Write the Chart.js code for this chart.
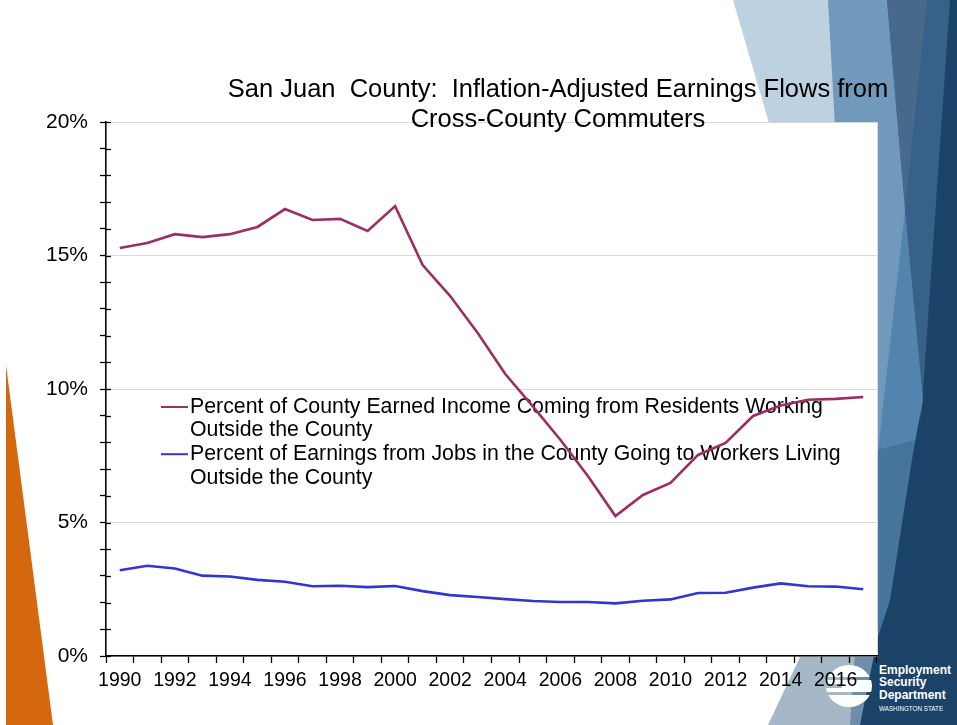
<!DOCTYPE html>
<html>
<head>
<meta charset="utf-8">
<script src="https://cdn.jsdelivr.net/npm/chart.js@4.4.0/dist/chart.umd.min.js"></script>
<style>
  html, body { margin: 0; padding: 0; background: #fff; }
  #wrap { position: relative; width: 957px; height: 725px; overflow: hidden; }
  #deco { position: absolute; left: 0; top: 0; }
  #chartBox { position: absolute; left: 0; top: 0; width: 957px; height: 725px; }
</style>
</head>
<body>
<div id="wrap">
  <svg id="deco" width="957" height="725">
    <polygon points="6,365 53,725 6,725" fill="#d5670f"/>
    <polygon points="880,0 957,0 957,725 858,725" fill="#1b4368"/>
    <polygon points="888,0 950,0 921,420" fill="#386189"/>
    <polygon points="887,0 927,0 905,210" fill="#47698b"/>
    <polygon points="905,210 923,400 900,520 877,600 877,300" fill="#5384ae"/>
    <polygon points="877,450 915,440 890,600 877,640" fill="#46749b"/>
    <polygon points="826,0 887,0 905,210 877,460 800,460" fill="#7199bb"/>
    <polygon points="733,0 828,0 850,400" fill="#bdd1e0"/>
    <polygon points="808,640 877,640 877,725 768,725" fill="#a6b8c7"/>
    <polygon points="856,640 877,640 862,725 850,725" fill="#6d8dab"/>
    <polygon points="877,640 957,640 957,725 860,725" fill="#1b4368"/>
    <mask id="logoMask">
      <rect x="820" y="660" width="60" height="60" fill="#fff"/>
      <rect x="820" y="677" width="60" height="3" fill="#000"/>
      <rect x="820" y="692" width="60" height="3" fill="#000"/>
      <rect x="820" y="684" width="22" height="4" fill="#000"/>
    </mask>
    <ellipse cx="849" cy="686" rx="23" ry="21" fill="#fff" mask="url(#logoMask)"/>
    <g font-family="Liberation Sans, Arial, sans-serif" font-weight="bold" fill="#fff">
      <text x="879" y="674" font-size="12">Employment</text>
      <text x="879" y="686" font-size="12">Security</text>
      <text x="879" y="699" font-size="12">Department</text>
      <text x="879" y="711" font-size="6.3" font-weight="normal">WASHINGTON STATE</text>
    </g>
  </svg>
  <div id="chartBox"><canvas id="myChart"></canvas></div>
</div>
<script>
const years = ['1990','1991','1992','1993','1994','1995','1996','1997','1998','1999',
  '2000','2001','2002','2003','2004','2005','2006','2007','2008','2009',
  '2010','2011','2012','2013','2014','2015','2016','2017'];

// percent of county earned income coming from residents working outside the county
const residentsOut = [15.28, 15.47, 15.8, 15.69, 15.8, 16.07, 16.74, 16.33, 16.37, 15.92,
  16.85, 14.64, 13.48, 12.1, 10.56, 9.35, 8.1, 6.74, 5.24, 6.03,
  6.48, 7.53, 7.98, 8.99, 9.38, 9.6, 9.63, 9.7];

// percent of earnings from jobs in the county going to workers living outside
const workersIn = [3.21, 3.38, 3.28, 3.01, 2.98, 2.85, 2.78, 2.61, 2.63, 2.58,
  2.62, 2.43, 2.28, 2.21, 2.13, 2.06, 2.02, 2.02, 1.97, 2.07,
  2.12, 2.36, 2.37, 2.56, 2.72, 2.61, 2.6, 2.5];

const seriesNames = [
  'Percent of County Earned Income Coming from Residents Working Outside the County',
  'Percent of Earnings from Jobs in the County Going to Workers Living Outside the County'
];
const titleLines = ['San Juan  County:  Inflation-Adjusted Earnings Flows from', 'Cross-County Commuters'];
const yTicks = [0, 5, 10, 15, 20];

const FONT = 'Liberation Sans, Arial, sans-serif';

// white plot box behind the lines
const plotBox = {
  id: 'plotBox',
  beforeDraw(chart) {
    const a = chart.chartArea, ctx = chart.ctx;
    ctx.save();
    ctx.fillStyle = '#fff';
    ctx.fillRect(a.left, a.top, a.right - a.left, a.bottom - a.top);
    ctx.strokeStyle = '#d9d9d9';
    ctx.lineWidth = 1;
    ctx.strokeRect(a.left + 0.5, a.top + 0.5, a.right - a.left, a.bottom - a.top);
    ctx.restore();
  }
};

// title centred over the slide area
const slideTitle = {
  id: 'slideTitle',
  afterDraw(chart) {
    const ctx = chart.ctx;
    ctx.save();
    ctx.font = '25.5px ' + FONT;
    ctx.fillStyle = '#000';
    ctx.textAlign = 'center';
    ctx.textBaseline = 'middle';
    titleLines.forEach((t, i) => ctx.fillText(t, 558, 90 + i * 30));
    ctx.restore();
  }
};

// legend inside the plot, with wrapped labels
const wrapLegend = {
  id: 'wrapLegend',
  beforeDatasetsDraw(chart) {
    const ctx = chart.ctx;
    ctx.save();
    ctx.font = '21.3px ' + FONT;
    ctx.textBaseline = 'middle';
    let y = 407;
    chart.data.datasets.forEach(ds => {
      const words = ds.label.split(' ');
      const lines = [];
      let cur = '';
      words.forEach(w => {
        const test = cur ? cur + ' ' + w : w;
        if (ctx.measureText(test).width > 680 && cur) { lines.push(cur); cur = w; }
        else cur = test;
      });
      lines.push(cur);
      ctx.strokeStyle = ds.borderColor;
      ctx.lineWidth = 2;
      ctx.beginPath();
      ctx.moveTo(161, y);
      ctx.lineTo(188, y);
      ctx.stroke();
      ctx.fillStyle = '#000';
      lines.forEach((l, i) => ctx.fillText(l, 190, y + i * 23.6));
      y += lines.length * 23.6;
    });
    ctx.restore();
  }
};

// y tick marks cross the axis line
const crossTicks = {
  id: 'crossTicks',
  afterDraw(chart) {
    const s = chart.scales.y, ctx = chart.ctx;
    ctx.save();
    ctx.strokeStyle = '#000';
    ctx.lineWidth = 1.3;
    s.ticks.forEach(t => {
      const py = Math.round(s.getPixelForValue(t.value)) + 0.5;
      ctx.beginPath();
      ctx.moveTo(s.right, py);
      ctx.lineTo(s.right + 5, py);
      ctx.stroke();
    });
    ctx.restore();
  }
};

const data = {
  labels: years,
  datasets: [{
    label: seriesNames[0],
    data: residentsOut,
    borderColor: '#9a2f62',
    borderWidth: 2.6,
    pointRadius: 0,
    tension: 0
  }, {
    label: seriesNames[1],
    data: workersIn,
    borderColor: '#3434cf',
    borderWidth: 2.6,
    pointRadius: 0,
    tension: 0
  }]
};

const config = {
  type: 'line',
  data: data,
  options: {
    responsive: true,
    maintainAspectRatio: false,
    animation: false,
    layout: { padding: { top: 122, right: 80, bottom: 0, left: 0 } },
    plugins: {
      legend: { display: false },
      title: { display: false },
      tooltip: { enabled: false }
    },
    scales: {
      x: {
        type: 'category',
        offset: true,
        afterFit: s => { s.height = 69; },
        border: { color: '#000', width: 1.5 },
        grid: { offset: true, drawOnChartArea: false, tickLength: 7, tickColor: '#000', tickWidth: 1.3 },
        ticks: {
          autoSkip: false,
          maxRotation: 0,
          padding: 6,
          color: '#000',
          font: { family: FONT, size: 19.5 },
          callback: (v, i) => (i % 2 === 0 ? years[i] : '')
        }
      },
      y: {
        min: 0,
        max: 20,
        afterFit: s => { s.width = 106; },
        border: { color: '#000', width: 1.5 },
        grid: {
          tickLength: 6,
          tickColor: '#000',
          tickWidth: 1.3,
          color: c => (c.tick && c.tick.value > 0 && yTicks.includes(c.tick.value) ? '#d9d9d9' : 'rgba(0,0,0,0)')
        },
        ticks: {
          stepSize: 1,
          maxTicksLimit: 21,
          padding: 12,
          color: '#000',
          font: { family: FONT, size: 21, lineHeight: 0.9 },
          callback: v => (yTicks.includes(v) ? v + '%' : '')
        }
      }
    }
  },
  plugins: [plotBox, wrapLegend, crossTicks, slideTitle]
};

const myChart = new Chart(document.getElementById('myChart'), config);
</script>
</body>
</html>
